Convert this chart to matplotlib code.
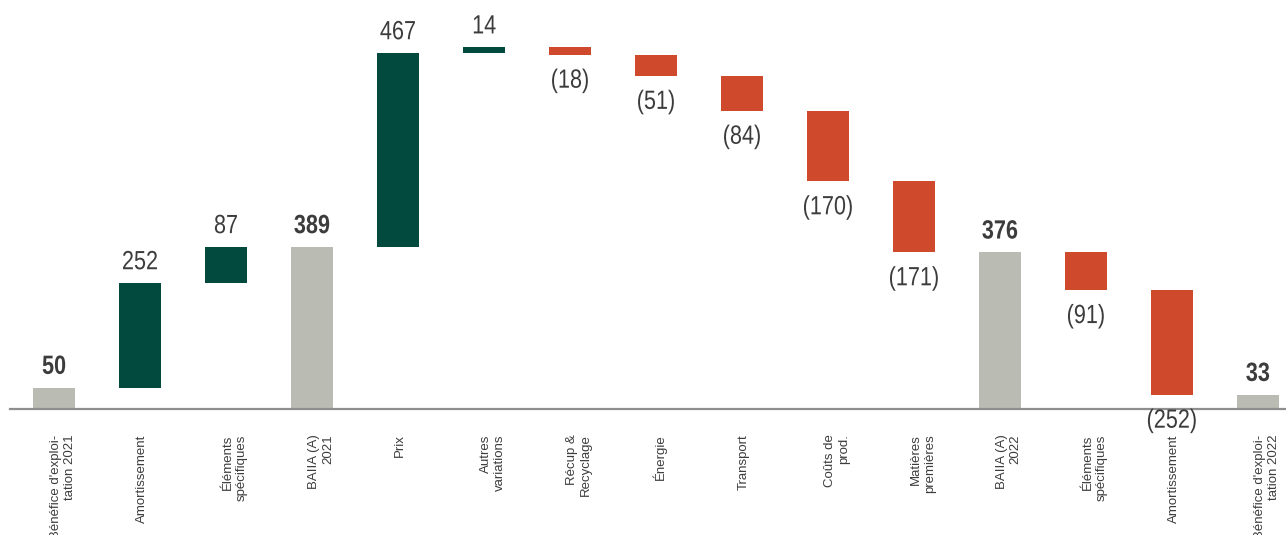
import numpy as np
import matplotlib.pyplot as plt
import matplotlib.transforms as mtransforms
from matplotlib import font_manager
from matplotlib.patheffects import AbstractPathEffect

categories = [
    "Bénéfice d'exploi-\ntation 2021", "Amortissement", "Éléments\nspécifiques",
    "BAIIA (A)\n2021", "Prix", "Autres\nvariations", "Récup &\nRecyclage",
    "Énergie", "Transport", "Coûts de\nprod.", "Matières\npremières",
    "BAIIA (A)\n2022", "Éléments\nspécifiques", "Amortissement",
    "Bénéfice d'exploi-\ntation 2022",
]
values = [50, 252, 87, 389, 467, 14, -18, -51, -84, -170, -171, 376, -91, -252, 33]
is_total = [True, False, False, True, False, False, False, False, False, False,
            False, True, False, False, True]

GREEN = "#014A3D"
RED = "#CF492D"
GREY = "#BABBB2"
TEXT = "#3C3C3C"


def pick_font(names):
    for name in names:
        try:
            font_manager.findfont(font_manager.FontProperties(family=name),
                                  fallback_to_default=False)
            return name
        except ValueError:
            continue
    return "DejaVu Sans"


class Squeeze(AbstractPathEffect):
    """Narrow the glyphs horizontally (no Arial Narrow here)."""

    def __init__(self, sx):
        super().__init__()
        self.sx = sx

    def draw_path(self, renderer, gc, tpath, affine, rgbFace=None):
        ext = tpath.get_extents()
        cx = (ext.x0 + ext.x1) / 2
        sq = mtransforms.Affine2D().translate(-cx, 0).scale(self.sx, 1).translate(cx, 0)
        renderer.draw_path(gc, tpath, sq + affine, rgbFace)


narrow = pick_font(["Liberation Sans Narrow", "Arial Narrow"])
squeeze = [] if narrow != "DejaVu Sans" else [Squeeze(0.82)]
if squeeze:
    narrow = pick_font(["Liberation Sans", "Arial"])
plt.rcParams["font.family"] = [pick_font(["Liberation Sans", "Arial"]), "DejaVu Sans"]

# waterfall bottoms / heights
bottoms, heights, colors = [], [], []
running = 0
for v, tot in zip(values, is_total):
    if tot:
        bottoms.append(0)
        heights.append(v)
        colors.append(GREY)
        running = v
    elif v >= 0:
        bottoms.append(running)
        heights.append(v)
        colors.append(GREEN)
        running += v
    else:
        bottoms.append(running + v)
        heights.append(-v)
        colors.append(RED)
        running += v

x = np.arange(len(values))

fig = plt.figure(figsize=(12.86, 5.35), dpi=100)
ax = fig.add_axes([10 / 1286, 1 - 408.5 / 535, 1276 / 1286, 408.5 / 535])
ax.bar(x, heights, bottom=bottoms, width=0.49, color=colors)

ax.set_xlim(-0.512, 14.326)
ax.set_ylim(0, 984)

for xi, v, b, h, tot in zip(x, values, bottoms, heights, is_total):
    if v >= 0:
        t = ax.annotate(f"{v}", (xi, b + h), xytext=(0, 10), textcoords="offset points",
                        ha="center", va="baseline", fontsize=19, color=TEXT,
                        family=narrow, fontweight="bold" if tot else "normal")
    else:
        t = ax.annotate(f"({-v})", (xi, b), xytext=(0, -10), textcoords="offset points",
                        ha="center", va="top", fontsize=19, color=TEXT, family=narrow)
    t.set_path_effects(squeeze)

# category labels, rotated, first line centred on the bar
base = mtransforms.blended_transform_factory(ax.transData, ax.transAxes)
shift = mtransforms.ScaledTranslation(-4 / 100, -26 / 100, fig.dpi_scale_trans)
for xi, lab in zip(x, categories):
    ax.text(xi, 0, lab, transform=base + shift, rotation=90, rotation_mode="anchor",
            ha="right", va="top", multialignment="right", fontsize=9.5, color=TEXT)

ax.set_xticks([])
ax.set_yticks([])
for side in ["left", "right", "top"]:
    ax.spines[side].set_visible(False)
ax.spines["bottom"].set_color("#8E8E8E")
ax.spines["bottom"].set_linewidth(1.6)
ax.patch.set_alpha(0)

fig.savefig("out.png", dpi=100)
